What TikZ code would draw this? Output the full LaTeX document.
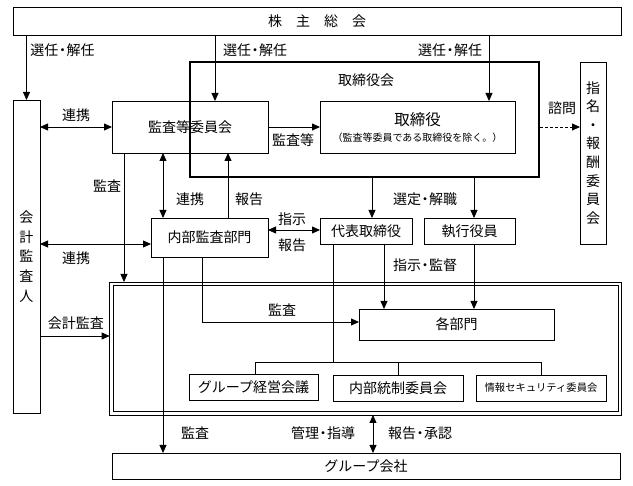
\documentclass[tikz,border=0pt]{standalone}
\usepackage{fontspec}
\setmainfont{Noto Sans CJK JP}
\usetikzlibrary{arrows.meta}
\newcommand\nd{\kern-3pt・\kern-3pt}
\begin{document}
\begin{tikzpicture}[x=1pt,y=-1pt,
  >={Triangle[length=8pt,width=7pt]},
  box/.style={draw, line width=0.9pt, inner sep=0pt, outer sep=0pt, font=\fontsize{14}{16}\selectfont},
  lab/.style={inner sep=0pt, font=\fontsize{14}{16}\selectfont},
  arr/.style={->, line width=0.8pt},
  darr/.style={<->, line width=0.8pt},
  plain/.style={line width=0.8pt}]
\useasboundingbox (0,0) rectangle (633,486);
% nodes
\node[box, minimum width=608pt, minimum height=28pt] (kabu) at (317,21) {株　主　総　会};
\node[box, minimum width=27pt, minimum height=313pt, align=center, font=\fontsize{14}{19.6}\selectfont] (kaikei) at (26.5,256.5) {会\\計\\監\\査\\人};
\node[draw, line width=2.2pt, minimum width=349pt, minimum height=115pt, inner sep=0pt] (bod) at (364.5,119.5) {};
\node[lab] (bodlab) at (366,80) {取締役会};
\node[box, minimum width=156pt, minimum height=52pt] (audit) at (190,127) {監査等委員会};
\node[box, minimum width=195pt, minimum height=52pt, align=center] (tori) at (417.5,127) {{\fontsize{15.5}{18}\selectfont 取締役}\\[0pt]{\fontsize{10}{11.5}\selectfont （監査等委員である取締役を除く。）}};
\node[box, minimum width=26pt, minimum height=182pt, align=center, font=\fontsize{14}{18.6}\selectfont] (nomi) at (593,153) {指\\名\\・\\報\\酬\\委\\員\\会};
\node[box, minimum width=117pt, minimum height=39pt] (naibu) at (209.5,237.5) {内部監査部門};
\node[box, minimum width=92pt, minimum height=26pt] (daihyo) at (366,231) {代表取締役};
\node[box, minimum width=91pt, minimum height=26pt] (shikko) at (469.5,231) {執行役員};
\node[draw, line width=0.8pt, minimum width=512pt, minimum height=133pt, inner sep=0pt, outer sep=0pt] (group) at (365.7,348.5) {};
\node[draw, line width=0.8pt, minimum width=505pt, minimum height=126pt, inner sep=0pt, outer sep=0pt] (groupin) at (365.7,348.5) {};
\node[box, minimum width=195pt, minimum height=31pt] (kakubu) at (456.5,324.5) {各部門};
\node[box, minimum width=129pt, minimum height=26pt] (gm) at (253.5,387.5) {グループ経営会議};
\node[box, minimum width=130pt, minimum height=26pt] (nt) at (398,388) {内部統制委員会};
\node[box, minimum width=130pt, minimum height=26pt, font=\fontsize{10.3}{12}\selectfont] (js) at (541,388) {情報セキュリティ委員会};
\node[box, minimum width=508pt, minimum height=26pt] (gk) at (366,466) {グループ会社};
% helper coordinates
\coordinate (x124) at (124,0);
\coordinate (x163) at (163,0);
\coordinate (x202) at (202,0);
\coordinate (x215) at (215,0);
\coordinate (x228) at (228,0);
\coordinate (x333) at (333,0);
\coordinate (x372) at (372,0);
\coordinate (x373) at (373,0);
\coordinate (x384) at (384,0);
\coordinate (x474) at (474,0);
\coordinate (x489) at (489,0);
\coordinate (y230) at (0,230);
\coordinate (y244) at (0,244);
\coordinate (y322) at (0,322);
\coordinate (y336) at (0,336);
\coordinate (busL) at (255,362);
\coordinate (busR) at (541,362);
% connectors
\draw[arr] (kabu.south -| kaikei) -- (kaikei.north);
\draw[arr] (kabu.south -| x215) -- (audit.north -| x215);
\draw[arr] (kabu.south -| x489) -- (tori.north -| x489);
\draw[darr] (kaikei.east |- audit) -- (audit.west);
\draw[arr] (audit.east) -- (tori.west);
\draw[arr, dash pattern=on 3pt off 2pt] (bod.east |- tori) -- (nomi.west |- tori);
\draw[arr] (audit.south -| x124) -- (group.north -| x124);
\draw[darr] (audit.south -| x163) -- (naibu.north -| x163);
\draw[arr] (naibu.north -| x228) -- (audit.south -| x228);
\draw[darr] (kaikei.east |- y244) -- (naibu.west |- y244);
\draw[darr] (naibu.east |- y230) -- (daihyo.west |- y230);
\draw[arr] (bod.south -| x372) -- (daihyo.north -| x372);
\draw[arr] (bod.south -| x474) -- (shikko.north -| x474);
\draw[arr] (daihyo.south -| x384) -- (kakubu.north -| x384);
\draw[arr] (shikko.south -| x474) -- (kakubu.north -| x474);
\draw[arr] (naibu.south -| x163) -- (gk.north -| x163);
\draw[arr] (naibu.south -| x202) |- (kakubu.west |- y322);
\draw[plain] (daihyo.south -| x333) -- (x333 |- busL);
\draw[plain] (gm.north -| busL) -- (busL) -- (busR) -- (js.north);
\draw[plain] (nt.north) -- (nt.north |- busL);
\draw[arr] (kaikei.east |- y336) -- (group.west |- y336);
\draw[darr] (group.south -| x373) -- (gk.north -| x373);
% labels
\node[lab] (l1) at (62.5,50) {選任\nd 解任};
\node[lab] (l2) at (255,50) {選任\nd 解任};
\node[lab] (l3) at (450,50) {選任\nd 解任};
\node[lab] (l4) at (562,108) {諮問};
\node[lab] (l5) at (76,115) {連携};
\node[lab] (l6) at (293,140) {監査等};
\node[lab] (l7) at (107,186) {監査};
\node[lab] (l8) at (190,199) {連携};
\node[lab] (l9) at (249,199) {報告};
\node[lab] (l10) at (292,219) {指示};
\node[lab] (l11) at (292,245) {報告};
\node[lab] (l12) at (76,258) {連携};
\node[lab] (l13) at (425,199) {選定\nd 解職};
\node[lab] (l14) at (425,265) {指示\nd 監督};
\node[lab] (l15) at (282,310) {監査};
\node[lab] (l16) at (76,323) {会計監査};
\node[lab] (l17) at (195,433) {監査};
\node[lab] (l18) at (323,433) {管理\nd 指導};
\node[lab] (l19) at (420,433) {報告\nd 承認};
\end{tikzpicture}
\end{document}
